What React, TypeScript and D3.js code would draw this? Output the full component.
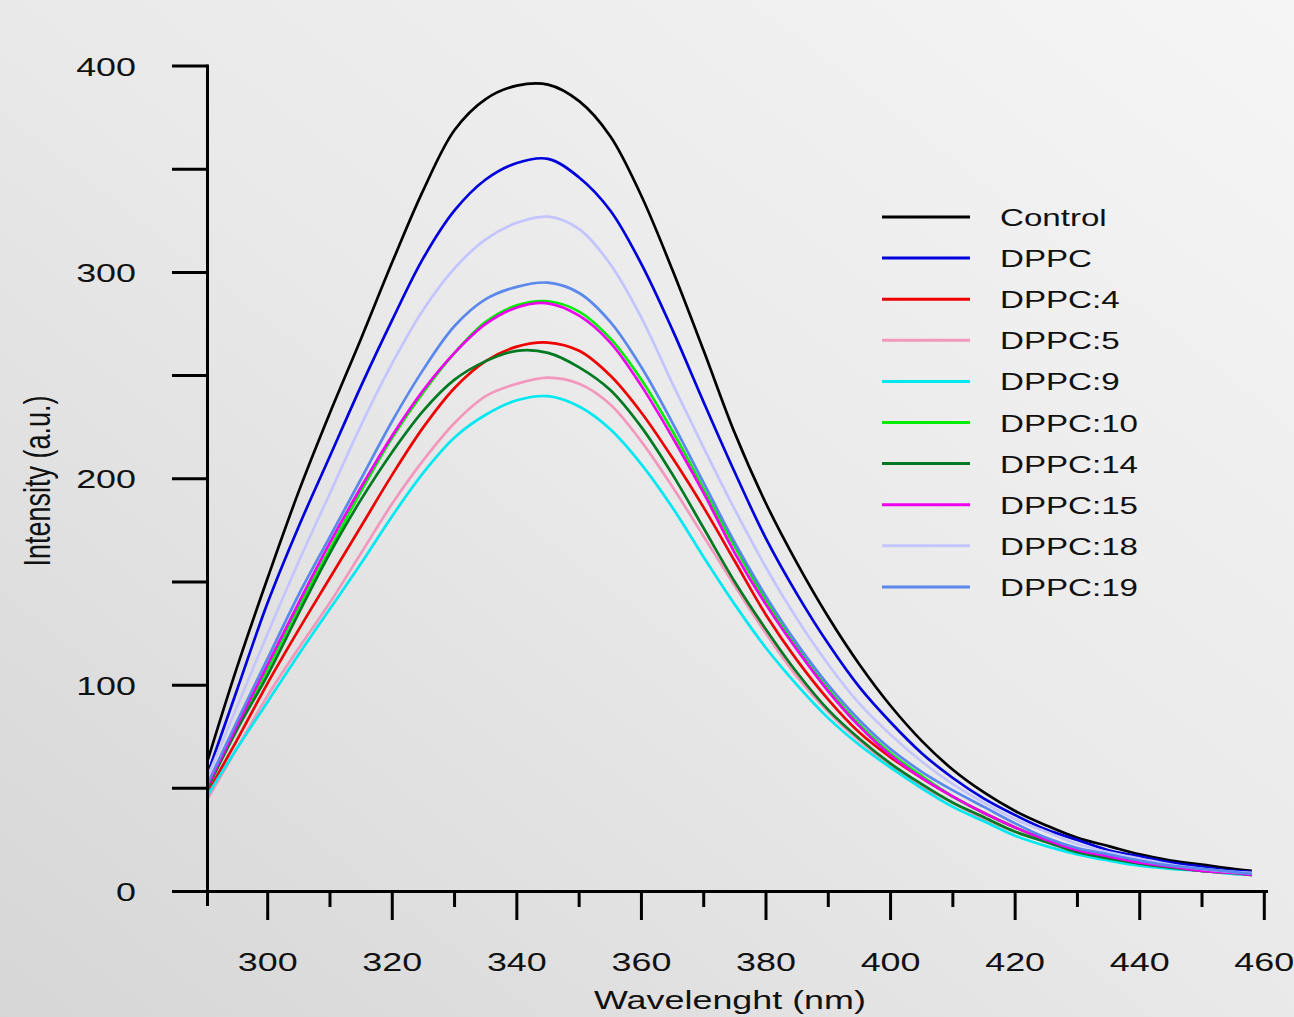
import React from "react";
import * as d3 from "d3";

const WAVELENGTHS = [290, 295, 300, 305, 310, 315, 320, 325, 330, 335, 340, 345, 350, 355, 360, 365, 370, 375, 380, 385, 390, 395, 400, 405, 410, 415, 420, 425, 430, 435, 440, 445, 450, 455, 458];

const CONTROL = [60, 108, 152, 194, 232, 268, 305, 340, 369, 384, 390.5, 391, 383, 366, 337, 301, 262, 222, 188, 159, 133, 110, 90, 73, 59, 48, 39, 32, 26, 22, 18, 15, 13, 11, 10];
const DPPC = [54, 97, 140, 177, 211, 245, 277, 307, 330, 345, 353, 355, 346, 330, 304, 272, 237, 203, 171, 144, 120, 99, 82, 67, 55, 45, 37, 30, 25, 20, 17, 14, 12, 10, 9.5];
const DPPC_4 = [46, 73, 101, 127, 152, 177, 202, 225, 244, 257, 264, 266, 262, 250, 232, 210, 186, 160, 134, 112, 93, 77, 65, 55, 46, 38, 31, 25, 20, 17, 14, 12, 10, 9, 8];
const DPPC_5 = [43, 69, 95, 118, 140, 164, 188, 209, 227, 240, 246, 249, 246, 236, 218, 196, 172, 148, 125, 104, 87, 73, 61, 51, 43, 35, 29, 24, 19, 16, 13.5, 11.5, 10, 8.5, 8];
const DPPC_9 = [45, 69, 92, 115, 137, 159, 182, 203, 220, 231, 238, 240, 235, 224, 207, 186, 162, 139, 118, 100, 84, 71, 60, 50, 41, 34, 27, 22, 18, 15, 12.5, 11, 10, 8.5, 8];
const DPPC_10 = [48, 79, 108, 138, 166, 194, 220, 242, 261, 276, 284, 286, 281, 268, 248, 223, 195, 167, 141, 118, 98, 81, 67, 56, 46, 38, 31, 25, 20, 17, 14, 12, 10, 9, 8];
const DPPC_14 = [48, 78, 105, 135, 164, 190, 213, 233, 248, 257, 262, 261, 254, 243, 225, 202, 176, 150, 127, 106, 88, 74, 62, 52, 43, 36, 29, 24, 19, 16, 13.5, 11.5, 10, 9, 8];
const DPPC_15 = [49, 80, 110, 140, 169, 196, 221, 243, 261, 275, 283, 285, 279, 266, 245, 220, 193, 164, 139, 117, 97, 80, 66, 55, 46, 38, 31, 25, 20, 17, 14, 12, 10, 9, 8];
const DPPC_18 = [53, 89, 125, 160, 193, 226, 256, 282, 302, 316, 324, 327, 321, 304, 278, 246, 215, 185, 157, 132, 110, 91, 76, 63, 52, 43, 35, 29, 23, 19, 16, 13, 11, 9.5, 9];
const DPPC_19 = [50, 82, 113, 144, 172, 200, 228, 253, 274, 287, 293, 295, 290, 276, 254, 227, 198, 169, 143, 120, 100, 83, 69, 58, 49, 41, 33, 26, 21, 18, 15, 12.5, 11, 9.5, 8.5];

const SERIES_NAMES = ["Control", "DPPC", "DPPC:4", "DPPC:5", "DPPC:9", "DPPC:10", "DPPC:14", "DPPC:15", "DPPC:18", "DPPC:19"];
const SERIES_VALUES = [CONTROL, DPPC, DPPC_4, DPPC_5, DPPC_9, DPPC_10, DPPC_14, DPPC_15, DPPC_18, DPPC_19];
const SERIES_COLORS = ["#000000", "#0000dd", "#ee0000", "#f397bd", "#00e8f0", "#00ee00", "#007a22", "#ee00ee", "#c4c4ff", "#5a88ec"];

const Y_TICKS_MAJOR = [0, 100, 200, 300, 400];
const Y_TICKS_ALL = [0, 50, 100, 150, 200, 250, 300, 350, 400];
const X_TICKS_MAJOR = [300, 320, 340, 360, 380, 400, 420, 440, 460];
const X_TICKS_MINOR = [310, 330, 350, 370, 390, 410, 430, 450];

const W = 1294;
const H = 1017;
const SX = 1.38; // horizontal stretch of the original picture
const FONT = "'Liberation Sans', Arial, Helvetica, sans-serif";

function SText({ x, y, anchor = "start", size, children, rotate = 0 }: any) {
  return (
    <text
      transform={`translate(${x},${y}) scale(${SX},1)${rotate ? ` rotate(${rotate})` : ""}`}
      textAnchor={anchor}
      fontSize={size}
      fontFamily={FONT}
      fill="#111"
    >
      {children}
    </text>
  );
}

export default function App() {
  const x = d3.scaleLinear().domain([300, 460]).range([267.7, 1264.3]);
  const y = d3.scaleLinear().domain([0, 400]).range([891.5, 66]);
  const axisX = 207.5;
  const axisLeft = 172;

  const line = d3
    .line<number>()
    .x((_, i) => x(WAVELENGTHS[i]))
    .y((d) => y(d))
    .curve(d3.curveCatmullRom.alpha(0.5));

  const legendX0 = 882;
  const legendX1 = 970;
  const legendY0 = 217;
  const legendStep = 41.1;

  return (
    <svg
      width={W}
      height={H}
      style={{ position: "absolute", left: 0, top: 0, display: "block" }}
    >
      <defs>
        <linearGradient id="bg" x1="1" y1="0" x2="0" y2="1">
          <stop offset="0" stopColor="#f5f5f5" />
          <stop offset="0.5" stopColor="#e9e9e9" />
          <stop offset="1" stopColor="#d6d6d6" />
        </linearGradient>
        <clipPath id="plot">
          <rect x={axisX} y={0} width={W - axisX} height={H} />
        </clipPath>
      </defs>
      <rect x={0} y={0} width={W} height={H} fill="url(#bg)" />

      {/* curves */}
      <g clipPath="url(#plot)">
        {SERIES_VALUES.map((vals, i) => (
          <path
            key={SERIES_NAMES[i]}
            d={line(vals) || ""}
            fill="none"
            stroke={SERIES_COLORS[i]}
            strokeWidth={2.7}
            strokeLinejoin="round"
          />
        ))}
      </g>

      {/* y axis */}
      <line x1={axisX} x2={axisX} y1={y(400) - 1.5} y2={906} stroke="#000" strokeWidth={3} />
      {Y_TICKS_ALL.map((t) => (
        <line key={"yt" + t} x1={axisLeft} x2={axisX} y1={y(t)} y2={y(t)} stroke="#000" strokeWidth={3} />
      ))}
      {Y_TICKS_MAJOR.map((t) => (
        <SText key={"yl" + t} x={136} y={y(t) + 9.5} anchor="end" size={26}>
          {String(t)}
        </SText>
      ))}

      {/* x axis */}
      <line x1={axisLeft} x2={1268} y1={y(0)} y2={y(0)} stroke="#000" strokeWidth={3} />
      {X_TICKS_MAJOR.map((t) => (
        <line key={"xt" + t} x1={x(t)} x2={x(t)} y1={y(0)} y2={920} stroke="#000" strokeWidth={3} />
      ))}
      {X_TICKS_MINOR.map((t) => (
        <line key={"xm" + t} x1={x(t)} x2={x(t)} y1={y(0)} y2={907} stroke="#000" strokeWidth={3} />
      ))}
      {X_TICKS_MAJOR.map((t) => (
        <SText key={"xl" + t} x={x(t)} y={971} anchor="middle" size={26}>
          {String(t)}
        </SText>
      ))}

      {/* axis titles */}
      <SText x={730} y={1009} anchor="middle" size={26}>
        Wavelenght (nm)
      </SText>
      <SText x={50} y={481} anchor="middle" size={27} rotate={-90}>
        Intensity (a.u.)
      </SText>

      {/* legend */}
      {SERIES_NAMES.map((name, i) => {
        const ly = legendY0 + i * legendStep;
        return (
          <g key={"lg" + name}>
            <line x1={legendX0} x2={legendX1} y1={ly} y2={ly} stroke={SERIES_COLORS[i]} strokeWidth={3} />
            <SText x={1000} y={ly + 9} size={24}>
              {name}
            </SText>
          </g>
        );
      })}
    </svg>
  );
}
